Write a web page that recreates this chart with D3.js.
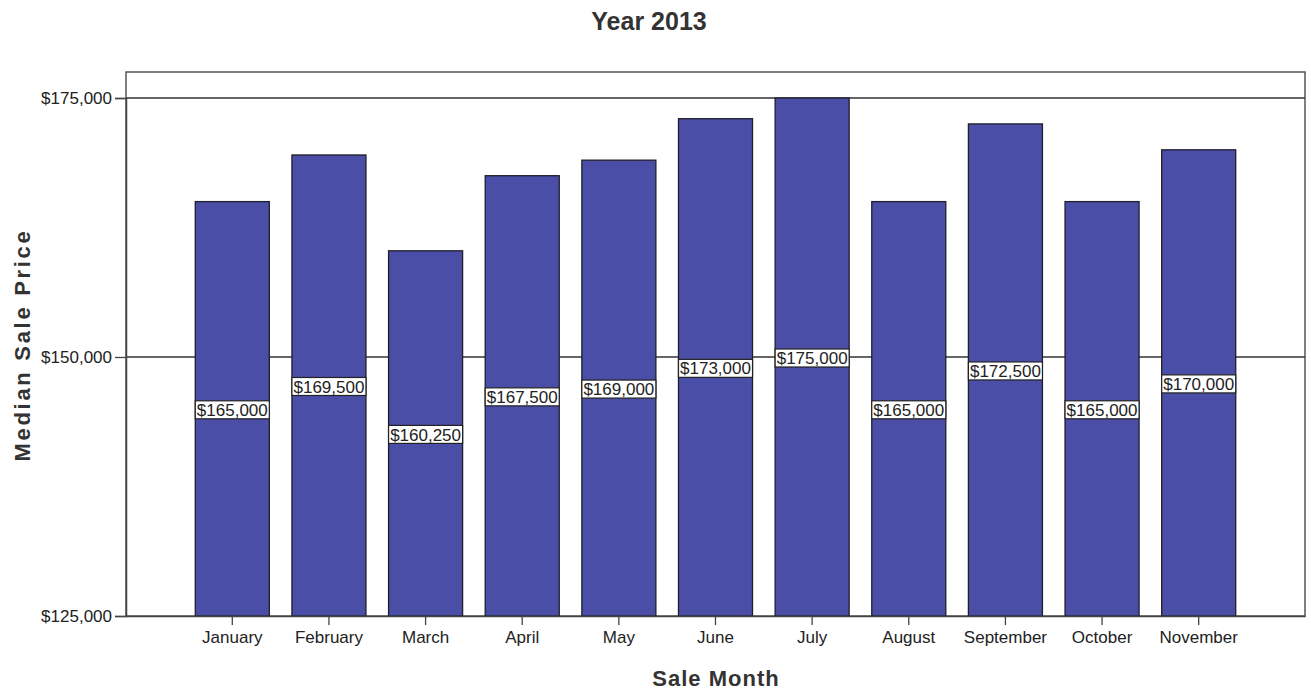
<!DOCTYPE html>
<html>
<head>
<meta charset="utf-8">
<script src="https://cdn.jsdelivr.net/npm/d3@7"></script>
<style>
  body { margin: 0; background: #fff; }
  svg { display: block; font-family: Arial, "Liberation Sans", sans-serif; }
</style>
</head>
<body>
<svg id="chart" width="1311" height="693"></svg>
<script>
const months = ["January","February","March","April","May","June","July","August","September","October","November"];
const medianPrice = [165000,169500,160250,167500,169000,173000,175000,165000,172500,165000,170000];
const yTicks = [125000,150000,175000];
const title = "Year 2013";
const xTitle = "Sale Month";
const yTitle = "Median Sale Price";

const svg = d3.select("#chart");
const L = 126, R = 1305, T = 72, B = 616;

const x = d3.scaleBand().domain(months).range([L, R]).paddingInner(0.234).paddingOuter(0.717);
const y = d3.scaleLinear().domain([125000, 175000]).range([B, 98]);
const fmt = v => "$" + d3.format(",")(v);

// frame (top & right)
svg.append("rect").attr("x", L).attr("y", T).attr("width", R - L).attr("height", B - T)
  .attr("fill", "#fff").attr("stroke", "#555").attr("stroke-width", 1.5);

// gridlines
svg.append("g").selectAll("line").data(yTicks.filter(d => d > 125000)).join("line")
  .attr("x1", L).attr("x2", R).attr("y1", d => y(d)).attr("y2", d => y(d))
  .attr("stroke", "#333").attr("stroke-width", 1.3);

// bars
svg.append("g").selectAll("rect").data(months).join("rect")
  .attr("x", d => x(d)).attr("width", x.bandwidth())
  .attr("y", (d, i) => y(medianPrice[i])).attr("height", (d, i) => B - y(medianPrice[i]))
  .attr("fill", "#4a4ea6").attr("stroke", "#1f1f2a").attr("stroke-width", 1.3);

// data labels
const lab = svg.append("g").selectAll("g").data(months).join("g")
  .attr("transform", (d, i) => `translate(${x(d) + x.bandwidth() / 2},${(y(medianPrice[i]) + B) / 2 + 1})`);
lab.append("rect").attr("x", -x.bandwidth() / 2).attr("y", -9).attr("width", x.bandwidth()).attr("height", 18)
  .attr("fill", "#fff").attr("stroke", "#222").attr("stroke-width", 1.2);
lab.append("text").attr("text-anchor", "middle").attr("dy", "0.36em")
  .attr("font-size", 17).attr("fill", "#222")
  .text((d, i) => fmt(medianPrice[i]));

// axes
const yAxis = d3.axisLeft(y).tickValues(yTicks).tickFormat(fmt).tickSize(11).tickPadding(3);
const gy = svg.append("g").attr("transform", `translate(${L},0)`).call(yAxis);
gy.select(".domain").attr("stroke", "#444").attr("stroke-width", 1.5);
gy.selectAll(".tick line").attr("stroke", "#444").attr("stroke-width", 1.3);
gy.selectAll("text").attr("font-size", 17).attr("fill", "#222").attr("font-family", "Arial, 'Liberation Sans', sans-serif");

const xAxis = d3.axisBottom(x).tickSize(9).tickPadding(6).tickSizeOuter(0);
const gx = svg.append("g").attr("transform", `translate(0,${B})`).call(xAxis);
gx.select(".domain").attr("stroke", "#444").attr("stroke-width", 1.5);
gx.selectAll(".tick line").attr("stroke", "#444").attr("stroke-width", 1.3);
gx.selectAll("text").attr("font-size", 17).attr("fill", "#222").attr("font-family", "Arial, 'Liberation Sans', sans-serif");

// titles
svg.append("text").attr("x", 649).attr("y", 30).attr("text-anchor", "middle")
  .attr("font-size", 25).attr("font-weight", "bold").attr("fill", "#333").text(title);
svg.append("text").attr("x", 716).attr("y", 686).attr("text-anchor", "middle")
  .attr("font-size", 22).attr("font-weight", "bold").attr("letter-spacing", 1).attr("fill", "#333").text(xTitle);
svg.append("text").attr("transform", "translate(30,345) rotate(-90)").attr("text-anchor", "middle")
  .attr("font-size", 22).attr("font-weight", "bold").attr("letter-spacing", 2.7).attr("fill", "#333").text(yTitle);
</script>
</body>
</html>
